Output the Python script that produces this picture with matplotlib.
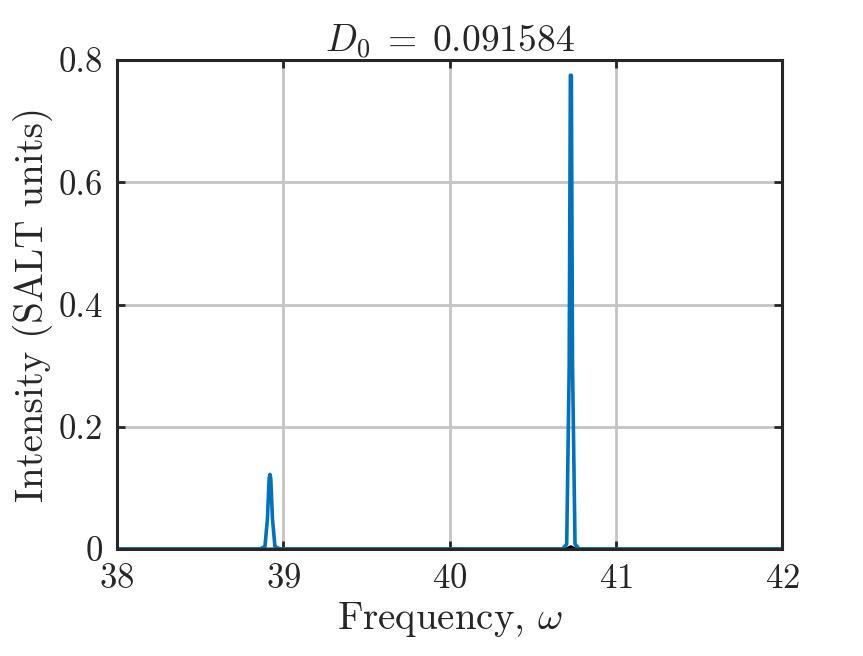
import matplotlib
matplotlib.use("Agg")
import matplotlib.pyplot as plt

plt.rcParams['font.family'] = 'serif'
plt.rcParams['font.serif'] = ['cmr10']
plt.rcParams['mathtext.fontset'] = 'cm'
plt.rcParams['axes.formatter.use_mathtext'] = True

freq = [38.0, 38.86, 38.89, 38.905, 38.915, 38.92, 38.925, 38.935, 38.95, 38.98, 40.68, 40.705, 40.72, 40.727, 40.733, 40.74, 40.755, 40.78, 42.0]
intensity = [0.0, 0.0, 0.004, 0.05, 0.115, 0.122, 0.115, 0.05, 0.004, 0.0, 0.0, 0.008, 0.3, 0.775, 0.775, 0.3, 0.008, 0.0, 0.0]
black_freq = [38.0, 40.70, 40.73, 40.76, 42.0]
black_int = [0.0, 0.0, 0.004, 0.0, 0.0]

fig = plt.figure(figsize=(8.63, 6.56), dpi=100)
ax = fig.add_axes([117/863, 1-549/656, 665/863, 489/656])
ax.plot(black_freq, black_int, color='black', lw=2)
ax.plot(freq, intensity, color='#0072BD', lw=2.6)
ax.set_xlim(38, 42)
ax.set_ylim(0, 0.8)
ax.set_xticks([38, 39, 40, 41, 42])
ax.set_yticks([0, 0.2, 0.4, 0.6, 0.8])
ax.set_yticklabels(['0', '0.2', '0.4', '0.6', '0.8'])
ax.grid(True, color='#c4c4c4', lw=2)
for s in ax.spines.values():
    s.set_linewidth(2.2)
    s.set_color('#262626')
ax.tick_params(direction='in', width=2, length=6, labelsize=25, top=True, right=True, pad=10, colors='#262626')
ax.set_xlabel(r'Frequency, $\omega$', fontsize=28, color='#262626')
ax.set_ylabel('Intensity (SALT units)', fontsize=28, color='#262626')
ax.set_title(r'$D_0\;=\;0.091584$', fontsize=27, color='#262626')
fig.savefig('out.png', dpi=100)
